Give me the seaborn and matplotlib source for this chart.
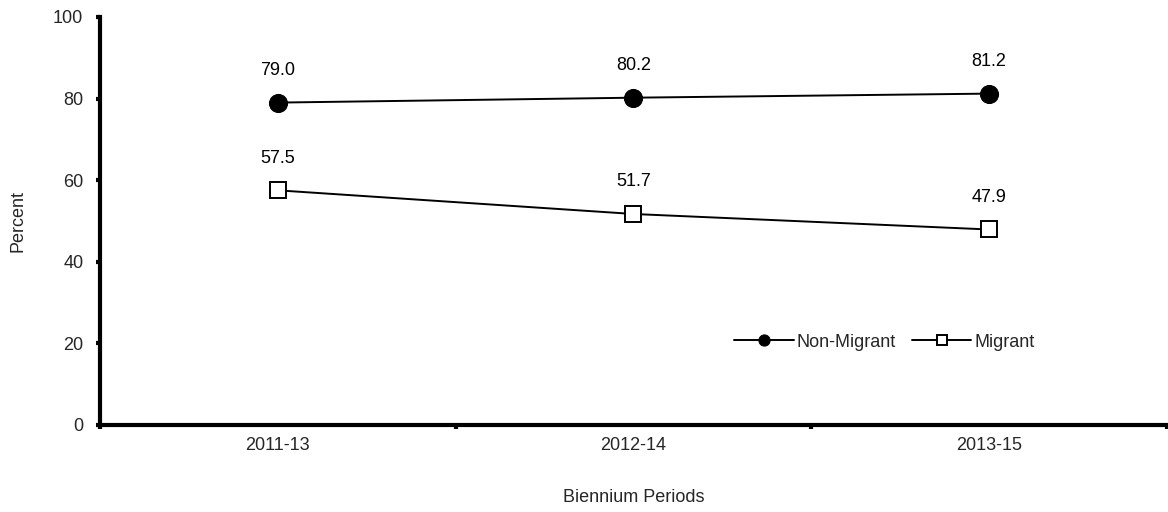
import matplotlib
matplotlib.use("Agg")
import matplotlib.pyplot as plt
import seaborn as sns
import pandas as pd

periods = ["2011-13", "2012-14", "2013-15"]
non_migrant = [79.0, 80.2, 81.2]
migrant = [57.5, 51.7, 47.9]
y_ticks = [0, 20, 40, 60, 80, 100]

sns.set_theme(style="white")
plt.rcParams['font.family'] = ['Liberation Sans', 'DejaVu Sans']
FS = 13

df = pd.DataFrame({"period": periods * 2,
                   "value": non_migrant + migrant,
                   "group": ["Non-Migrant"] * 3 + ["Migrant"] * 3})

fig = plt.figure(figsize=(11.68, 5.12), dpi=100)
ax = fig.add_axes([0.0856, 0.170, 0.9135, 0.797])

sns.lineplot(data=df[df.group == "Non-Migrant"], x="period", y="value", ax=ax,
             color="black", marker="o", markersize=13, markerfacecolor="black",
             markeredgecolor="black", linewidth=1.4, label="Non-Migrant")
sns.lineplot(data=df[df.group == "Migrant"], x="period", y="value", ax=ax,
             color="black", marker="s", markersize=12, markerfacecolor="white",
             markeredgecolor="black", markeredgewidth=1.4, linewidth=1.4, label="Migrant")

for vals in (non_migrant, migrant):
    for i, v in enumerate(vals):
        ax.annotate(f"{v:.1f}", (i, v), xytext=(0, 17), textcoords="offset points",
                    ha="center", va="bottom", fontsize=FS, color="black")

ax.set_xlim(-0.5, 2.5)
ax.set_ylim(0, 100)
ax.set_yticks(y_ticks)
ax.set_xticks([0, 1, 2])
ax.set_xticklabels(periods)
ax.set_xticks([-0.5, 0.5, 1.5, 2.5], minor=True)
ax.tick_params(axis="x", which="major", length=0, labelsize=FS, pad=9)
ax.tick_params(axis="x", which="minor", length=3, width=3, direction="out", color="black", bottom=True)
ax.tick_params(axis="y", length=3, width=3, direction="out", color="black", labelsize=FS, pad=9, left=True)

for s in ("top", "right"):
    ax.spines[s].set_visible(False)
for s in ("left", "bottom"):
    ax.spines[s].set_linewidth(3)
    ax.spines[s].set_color("black")

ax.set_xlabel("Biennium Periods", fontsize=FS, labelpad=25)
ax.set_ylabel("Percent", fontsize=FS, labelpad=19)

ax.legend(loc="center", bbox_to_anchor=(0.735, 0.203), ncol=2, frameon=False,
          fontsize=FS, handlelength=3.3, columnspacing=0.9, handletextpad=0.15,
          markerscale=0.62)

fig.savefig("out.png", dpi=100)
